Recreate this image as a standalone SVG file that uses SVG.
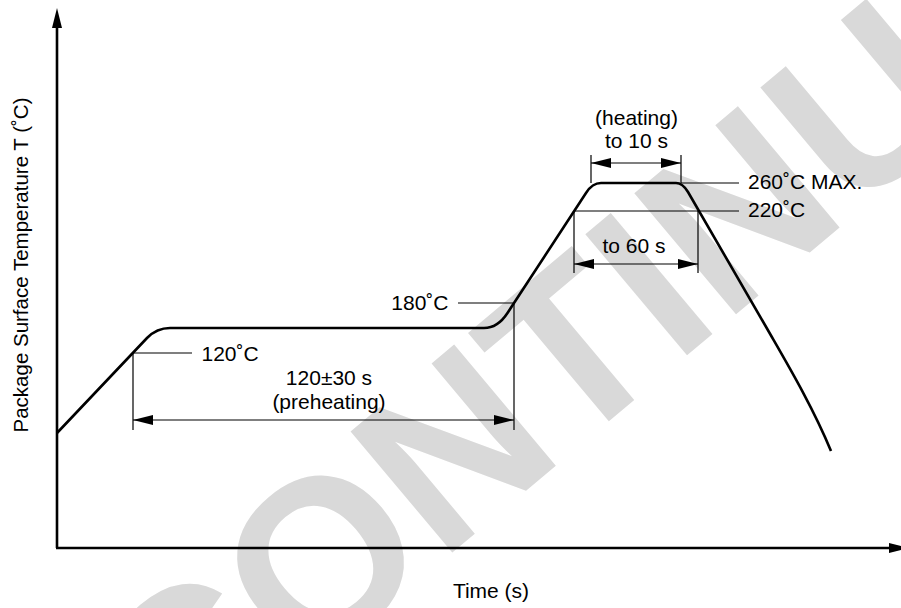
<svg xmlns="http://www.w3.org/2000/svg" width="901" height="608" viewBox="0 0 901 608">
<defs>
<style>
.lbl{font-family:"Liberation Sans",Arial,sans-serif;font-size:21px;fill:#000}
.thin{stroke:#000;stroke-width:1.2;fill:none}
.axis{stroke:#000;stroke-width:2.6;fill:none}
.curve{stroke:#000;stroke-width:2.6;fill:none;stroke-linejoin:round}
.wm{font-family:"Liberation Sans",Arial,sans-serif;font-weight:bold;font-size:230px;fill:#d9d9d9}
</style>
<marker id="ah" viewBox="0 0 20 10" refX="20" refY="5" markerWidth="20" markerHeight="10" markerUnits="userSpaceOnUse" orient="auto-start-reverse">
<path d="M0,0 L20,5 L0,10 Z" fill="#000"/>
</marker>
</defs>
<rect width="901" height="608" fill="#fff"/>
<g id="watermark">
<text class="wm" x="553" y="468" transform="rotate(-40 553 468)" text-anchor="middle">DISCONTINUED</text>
</g>
<g id="axes">
<line class="axis" x1="57" y1="548" x2="57" y2="26"/>
<path d="M57,8 L62,28 L52,28 Z" fill="#000"/>
<line class="axis" x1="56" y1="548" x2="891" y2="548"/>
<path d="M909,548 L889,553 L889,543 Z" fill="#000"/>
</g>
<g id="profile">
<path class="curve" d="M57,433 L147,338 Q156.8,328 170,328 L484,328 Q497.7,328 507.5,313 L586,193 Q592.3,183 601,183 L676,183 Q682.6,183 688,192 L766.7,328 C785,360 812,405 831,451"/>
</g>
<g id="connectors">
<line class="thin" x1="133" y1="353" x2="192" y2="353"/>
<line class="thin" x1="133" y1="353" x2="133" y2="430"/>
<line class="thin" x1="458" y1="303" x2="514" y2="303"/>
<line class="thin" x1="514" y1="303" x2="514" y2="430"/>
<line class="thin" x1="133" y1="420" x2="514" y2="420" marker-start="url(#ah)" marker-end="url(#ah)"/>
<line class="thin" x1="591" y1="155" x2="591" y2="183"/>
<line class="thin" x1="681" y1="155" x2="681" y2="183"/>
<line class="thin" x1="591" y1="163" x2="681" y2="163" marker-start="url(#ah)" marker-end="url(#ah)"/>
<line class="thin" x1="681" y1="183" x2="739" y2="183"/>
<line class="thin" x1="574" y1="211" x2="739" y2="211"/>
<line class="thin" x1="574" y1="211" x2="574" y2="273"/>
<line class="thin" x1="698" y1="211" x2="698" y2="273"/>
<line class="thin" x1="574" y1="264" x2="698" y2="264" marker-start="url(#ah)" marker-end="url(#ah)"/>
</g>
<g id="labels">
<text class="lbl" x="201.5" y="361">120˚C</text>
<text class="lbl" x="329" y="385" text-anchor="middle">120±30 s</text>
<text class="lbl" x="329" y="409" text-anchor="middle">(preheating)</text>
<text class="lbl" x="448.5" y="310" text-anchor="end">180˚C</text>
<text class="lbl" x="636.5" y="125" text-anchor="middle">(heating)</text>
<text class="lbl" x="636.5" y="148" text-anchor="middle">to 10 s</text>
<text class="lbl" x="748" y="189">260˚C MAX.</text>
<text class="lbl" x="748" y="217">220˚C</text>
<text class="lbl" x="634" y="253" text-anchor="middle">to 60 s</text>
<text class="lbl" x="491" y="598" text-anchor="middle">Time (s)</text>
<text class="lbl" x="28" y="265" text-anchor="middle" style="font-size:20.5px" transform="rotate(-90 28 265)">Package Surface Temperature  T (˚C)</text>
</g>
</svg>
